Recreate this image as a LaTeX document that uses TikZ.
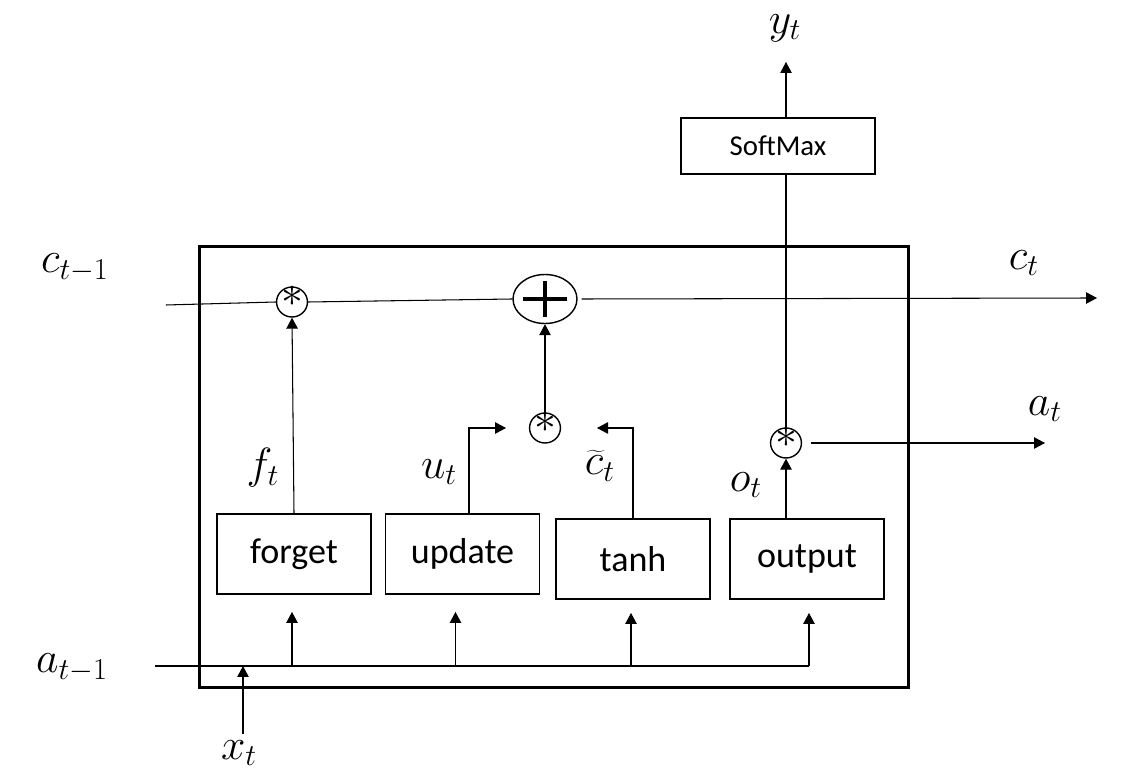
\documentclass[tikz,border=0pt]{standalone}
\usepackage{fontspec}
\setmainfont{Carlito}
\usetikzlibrary{arrows.meta,shapes.geometric}
\begin{document}
\begin{tikzpicture}[x=0.02cm,y=-0.02cm,
  ln/.style={line width=0.6pt},
  arr/.style={line width=0.6pt,-{Triangle[length=0.22cm,width=0.23cm]}},
  gate/.style={draw,line width=1.1pt,minimum width=3.08cm,minimum height=1.6cm,inner sep=0pt,font=\fontsize{20.5}{24}\selectfont},
  mult/.style={draw,ellipse,line width=0.8pt,minimum width=0.54cm,minimum height=0.6cm,inner sep=0pt,text height=5.6pt,text depth=0pt,font=\fontsize{28}{28}\selectfont},
  lbl/.style={font=\fontsize{26}{30}\selectfont,inner sep=0pt}
]
\useasboundingbox (0,0) rectangle (1137,783);
% main cell
\node[draw,line width=1.7pt,minimum width=14.2cm,minimum height=8.84cm,inner sep=0pt] (cell) at (554,467) {};
% gates
\node[gate] (forget) at (294,554) {forget};
\node[gate] (update) at (462.5,554) {update};
\node[gate] (tanh) at (633,559) {tanh};
\node[gate] (output) at (807,559) {output};
\node[draw,line width=1.1pt,minimum width=3.88cm,minimum height=1.12cm,inner sep=0pt,font=\fontsize{16.4}{20}\selectfont] (softmax) at (778,146) {SoftMax};
% operators
\node[mult] (m1) at (292,302) {$*$};
\node[mult] (m2) at (545,428) {$*$};
\node[mult] (m3) at (786,443) {$*$};
\node[draw,ellipse,line width=0.8pt,minimum width=1.28cm,minimum height=0.98cm,inner sep=0pt,
  path picture={
    \draw[line width=2pt] ([xshift=-0.44cm]path picture bounding box.center) -- ([xshift=0.44cm]path picture bounding box.center);
    \draw[line width=2pt] ([yshift=-0.36cm]path picture bounding box.center) -- ([yshift=0.36cm]path picture bounding box.center);
  }] (plus) at (545,299) {};
% labels
\node[lbl] (lcprev) at (75,268) {$c_{t-1}$};
\node[lbl] (lc) at (1024,263) {$c_t$};
\node[lbl] (ly) at (785,28) {$y_t$};
\node[lbl] (la) at (1045,409) {$a_t$};
\node[lbl] (laprev) at (72,668) {$a_{t-1}$};
\node[lbl] (lx) at (239,753) {$x_t$};
\node[lbl] (lf) at (263,468) {$f_t$};
\node[lbl] (lu) at (439,472) {$u_t$};
\node[lbl] (lct) at (600,466) {$\widetilde{c}_t$};
\node[lbl] (lo) at (746,485) {$o_t$};
% coordinates
\coordinate (cin) at (166,305);
\coordinate (cout) at (1097,298);
\coordinate (ua) at (506,428);
\coordinate (ta) at (597,428);
\coordinate (aout) at (1045,443);
\coordinate (yout) at (786,62);
\coordinate (ain) at (155,666);
\coordinate (aend) at (809,666);
\coordinate (xin) at (243,734);
\coordinate (xon) at (243,666);
% cell state line
\draw[ln] (cin) -- (m1.west);
\draw[ln] (m1.east) -- (plus.west);
\draw[arr] (plus.east) ++(0.08cm,0) -- (cout);
% gate outputs
\draw[arr] (forget.north) -- (m1.south);
\draw[arr] ([xshift=0.13cm]update.north) |- (ua);
\draw[arr] (tanh.north) |- (ta);
\draw[arr] (m2.north) -- (plus.south);
\draw[arr] (output.north -| m3) -- (m3.south);
\draw[arr,shorten <=0.18cm] (m3.east) -- (aout);
\draw[ln] (m3.north) -- (m3.north |- softmax.south);
\draw[arr] (softmax.north -| m3) -- (yout);
% inputs
\draw[ln] (ain) -- (aend);
\draw[arr] (xin) -- (xon);
\draw[arr,shorten >=0.34cm] ([xshift=-0.04cm]forget.south |- ain) -- ([xshift=-0.04cm]forget.south);
\draw[arr,shorten >=0.34cm] ([xshift=-0.14cm]update.south |- ain) -- ([xshift=-0.14cm]update.south);
\draw[arr,shorten >=0.26cm] ([xshift=-0.04cm]tanh.south |- ain) -- ([xshift=-0.04cm]tanh.south);
\draw[arr,shorten >=0.26cm] (aend) -- (aend |- output.south);
\end{tikzpicture}
\end{document}
